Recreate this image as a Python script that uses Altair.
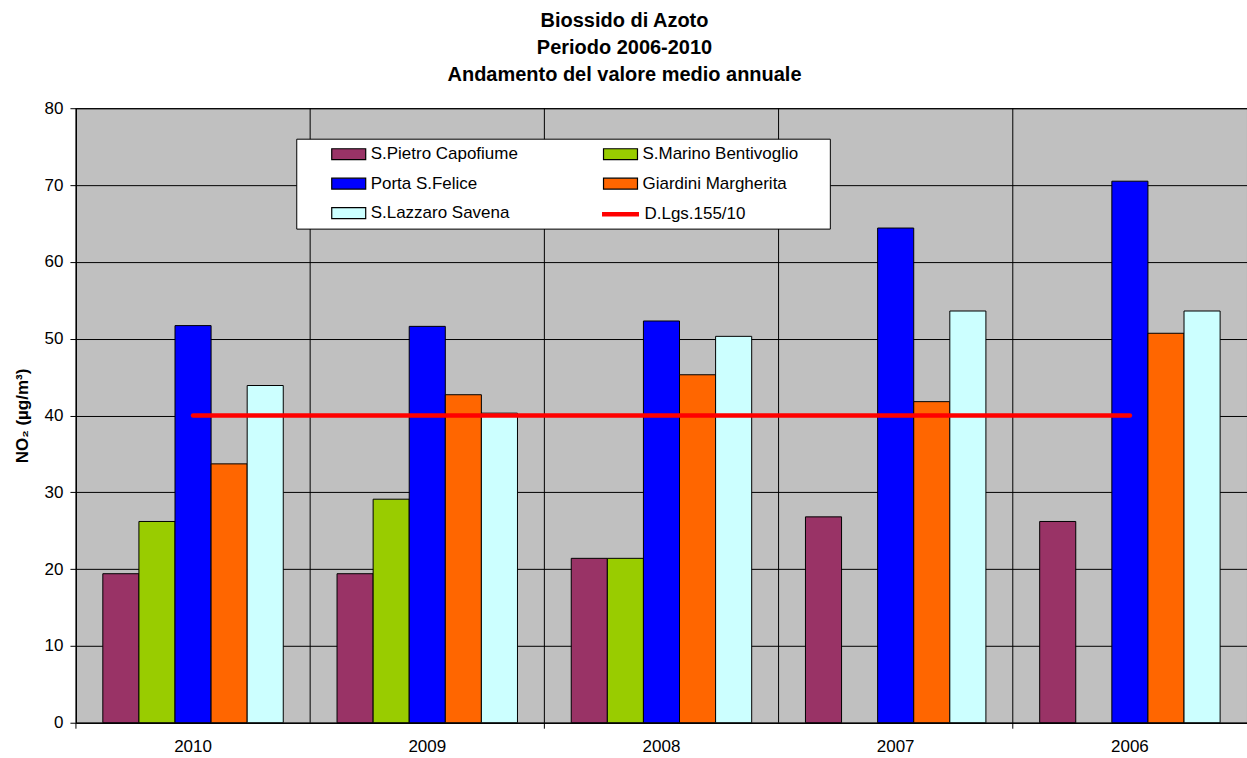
import altair as alt
import pandas as pd

years = ["2010", "2009", "2008", "2007", "2006"]
stations = ["S.Pietro Capofiume", "S.Marino Bentivoglio", "Porta S.Felice",
            "Giardini Margherita", "S.Lazzaro Savena"]
colors = ["#993366", "#99CC00", "#0000FF", "#FF6600", "#CCFFFF"]

s_pietro = [19.4, 19.4, 21.4, 26.8, 26.2]
s_marino = [26.2, 29.1, 21.4, None, None]
porta = [51.7, 51.6, 52.3, 64.4, 70.5]
giardini = [33.7, 42.7, 45.3, 41.8, 50.7]
s_lazzaro = [43.9, 40.3, 50.3, 53.6, 53.6]
limit_label = "D.Lgs.155/10"
limit_values = [40, 40, 40, 40, 40]
tick_years = ["2010", "2008", "2006"]

series = [s_pietro, s_marino, porta, giardini, s_lazzaro]
rows = []
for st, vals in zip(stations, series):
    for y, v in zip(years, vals):
        if v is not None:
            rows.append({"year": y, "station": st, "value": v})
bars_df = pd.DataFrame(rows)
line_df = pd.DataFrame({"year": years, "value": limit_values, "label": limit_label})
years_df = pd.DataFrame({"year": years})
ticks_df = pd.DataFrame({"year": tick_years})

FONT = "Liberation Sans"
W, H = 1172, 615

xscale = alt.Scale(domain=years, paddingInner=0, paddingOuter=0)
yscale = alt.Scale(domain=[0, 80])

grid_v = alt.Chart(years_df).mark_rule(color="#000000", strokeWidth=1).encode(
    x=alt.X("year:N", bandPosition=0, scale=xscale, sort=years,
            axis=alt.Axis(title=None, labelFontSize=17, labelFont=FONT, labelAngle=0,
                          tickSize=0, labelPadding=16, domain=True, domainColor="#000",
                          grid=False, labelColor="#000"))
)

ticks = alt.Chart(ticks_df).mark_rule(color="#000000", strokeWidth=1).encode(
    x=alt.X("year:N", bandPosition=0, scale=xscale, sort=years),
    y=alt.value(H), y2=alt.value(H + 6)
)

bars = alt.Chart(bars_df).mark_bar(stroke="#000000", strokeWidth=1).encode(
    x=alt.X("year:N", scale=xscale, sort=years),
    xOffset=alt.XOffset("station:N", sort=stations,
                        scale=alt.Scale(domain=stations, paddingInner=0, paddingOuter=0.745)),
    y=alt.Y("value:Q", scale=yscale,
            axis=alt.Axis(title="NO₂ (µg/m³)", titleFont=FONT, titleFontSize=17,
                          titleFontWeight="bold", titlePadding=13, titleColor="#000",
                          values=list(range(0, 81, 10)), labelFont=FONT, labelFontSize=17,
                          labelColor="#000", tickSize=6, tickColor="#000", labelPadding=7,
                          gridColor="#000000", gridOpacity=1, gridWidth=1,
                          domainColor="#000")),
    fill=alt.Fill("station:N", sort=stations,
                  scale=alt.Scale(domain=stations, range=colors),
                  legend=alt.Legend(orient="none", legendX=255, legendY=28, title=None,
                                    direction="horizontal",
                                    columns=2, columnPadding=82, rowPadding=3.5,
                                    symbolType="M-1,-0.32H1V0.32H-1Z", symbolSize=1156,
                                    symbolStrokeColor="#000", symbolStrokeWidth=1.2,
                                    labelFont=FONT, labelFontSize=17, labelColor="#000",
                                    labelOffset=4, labelLimit=300, padding=0))
)

box = alt.Chart(years_df).mark_rect(fill="#FFFFFF", stroke="#000000", strokeWidth=1).encode(
    x=alt.value(221), x2=alt.value(755), y=alt.value(31), y2=alt.value(121)
).transform_filter(alt.datum.year == "2010")

line = alt.Chart(line_df).mark_line(strokeWidth=4.5, strokeCap="round").encode(
    x=alt.X("year:N", scale=xscale, sort=years),
    y=alt.Y("value:Q", scale=yscale),
    stroke=alt.Stroke("label:N", scale=alt.Scale(domain=[limit_label], range=["#FF0000"]),
                      legend=alt.Legend(orient="none", legendX=524, legendY=85, title=None,
                                        symbolType="stroke", symbolSize=1369,
                                        symbolStrokeWidth=4.5, labelFont=FONT,
                                        labelFontSize=17, labelColor="#000",
                                        labelOffset=3, padding=0))
)

chart = alt.layer(grid_v, ticks, bars, line, box).properties(
    width=W, height=H,
    title=alt.TitleParams(
        text=["Biossido di Azoto", "Periodo 2006-2010", "Andamento del valore medio annuale"],
        font=FONT, fontSize=20, fontWeight="bold", lineHeight=27, color="#000",
        anchor="middle", frame="group", dx=-37, offset=14.5),
    padding={"left": 13, "top": 10, "right": 0, "bottom": 0},
    background="#FFFFFF"
).configure_view(fill="#C0C0C0", stroke="#000000", strokeWidth=1).configure_axis(
    gridColor="#000000"
)

chart.save("out.html", embed_options={"renderer": "svg", "actions": False})
